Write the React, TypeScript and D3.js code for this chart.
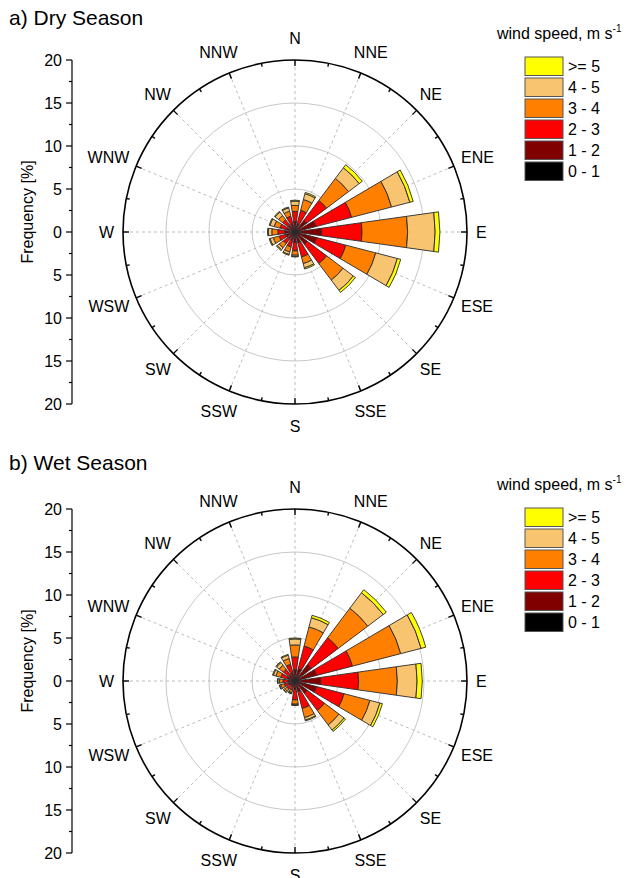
import React from "react";
import * as d3 from "d3";

const directions = ["N", "NNE", "NE", "ENE", "E", "ESE", "SE", "SSE", "S", "SSW", "SW", "WSW", "W", "WNW", "NW", "NNW"];
const speedClasses = ["0 - 1", "1 - 2", "2 - 3", "3 - 4", "4 - 5", ">= 5"];
const classColors = ["#000000", "#800000", "#ff0000", "#ff8000", "#f9c46f", "#ffff00"];
const freqTicks = [-20, -15, -10, -5, 0, 5, 10, 15, 20];
const gridRings = [5, 10, 15];

// Dry season: frequency [%] per speed class, directions N..NNW
const dry0to1 = [0.3, 0.3, 0.3, 0.4, 0.4, 0.4, 0.3, 0.3, 0.3, 0.3, 0.3, 0.3, 0.3, 0.3, 0.3, 0.3];
const dry1to2 = [0.9, 0.7, 1.4, 2.1, 2.7, 2.2, 1.5, 1.0, 0.9, 0.7, 0.7, 0.8, 0.9, 0.7, 0.7, 0.7];
const dry2to3 = [1.2, 1.6, 2.9, 4.3, 4.7, 3.5, 2.8, 1.7, 1.0, 0.8, 0.7, 0.8, 0.8, 0.8, 0.8, 0.9];
const dry3to4 = [0.7, 1.3, 3.2, 4.8, 5.3, 3.6, 2.4, 0.8, 0.5, 0.6, 0.6, 0.7, 0.7, 0.7, 0.6, 0.6];
const dry4to5 = [0.5, 0.7, 1.55, 2.2, 3.2, 2.6, 1.5, 0.5, 0.15, 0.3, 0.3, 0.4, 0.4, 0.5, 0.5, 0.4];
const dry5up = [0.1, 0.15, 0.45, 0.4, 0.55, 0.4, 0.3, 0.15, 0.05, 0.1, 0.1, 0.1, 0.1, 0.1, 0.1, 0.1];

// Wet season
const wet0to1 = [0.3, 0.3, 0.4, 0.4, 0.4, 0.4, 0.3, 0.3, 0.3, 0.3, 0.3, 0.3, 0.3, 0.3, 0.3, 0.3];
const wet1to2 = [1.0, 1.2, 2.0, 2.2, 2.6, 2.2, 1.5, 1.0, 0.7, 0.4, 0.4, 0.5, 0.5, 0.6, 0.6, 0.7];
const wet2to3 = [1.5, 2.7, 3.9, 4.3, 4.4, 3.3, 2.5, 2.0, 1.2, 0.4, 0.5, 0.5, 0.6, 0.8, 0.8, 1.0];
const wet3to4 = [1.4, 2.3, 4.3, 5.8, 4.5, 3.1, 2.1, 1.1, 0.5, 0.3, 0.3, 0.4, 0.4, 0.6, 0.6, 0.7];
const wet4to5 = [0.7, 1.1, 2.25, 2.45, 2.3, 1.2, 0.75, 0.3, 0.1, 0.1, 0.15, 0.15, 0.2, 0.3, 0.4, 0.4];
const wet5up = [0.1, 0.3, 0.45, 0.55, 0.6, 0.3, 0.2, 0.1, 0.05, 0.05, 0.05, 0.05, 0.05, 0.1, 0.1, 0.1];

const FONT = "'Liberation Sans', Arial, sans-serif";
const R = 172;
const CX = 295;
const LABEL_SIZE = 16;
const charW: Record<string, number> = { N: 0.722, E: 0.667, S: 0.667, W: 0.944 };

type PanelProps = { title: string; series: number[][]; cy: number; titleY: number; legendY: number };

function Panel({ title, series, cy, titleY, legendY }: PanelProps) {
  const r = d3.scaleLinear().domain([0, 20]).range([0, R]);
  const y = d3.scaleLinear().domain([-20, 20]).range([cy + R, cy - R]);
  const step = (2 * Math.PI) / directions.length;
  const half = (16 / 2) * (Math.PI / 180);
  const arc = d3.arc<any>();

  const bars: JSX.Element[] = [];
  directions.forEach((d, i) => {
    const a = i * step;
    let cum = 0;
    series.forEach((s, k) => {
      const v = s[i];
      const path = arc({
        innerRadius: r(cum),
        outerRadius: r(cum + v),
        startAngle: a - half,
        endAngle: a + half,
      }) as string;
      bars.push(
        <path key={`${d}-${k}`} d={path} fill={classColors[k]} stroke="#2a2a2a" strokeWidth={0.9} strokeLinejoin="round" />
      );
      cum += v;
    });
  });

  const minorTicks = d3.range(-20, 20.01, 2.5);
  const ringTicks = d3.range(0, 32).map((j) => j * (Math.PI / 16));

  return (
    <g>
      <text x={9} y={titleY} fontFamily={FONT} fontSize={21} fill="#000">{title}</text>
      {gridRings.map((g) => (
        <circle key={g} cx={CX} cy={cy} r={r(g)} fill="none" stroke="#c8c8c8" strokeWidth={1} />
      ))}
      {directions.map((d, i) => {
        const a = i * step;
        return (
          <line key={d} x1={CX} y1={cy} x2={CX + R * Math.sin(a)} y2={cy - R * Math.cos(a)}
            stroke="#bdbdbd" strokeWidth={1} strokeDasharray="3,3" />
        );
      })}
      <circle cx={CX} cy={cy} r={R} fill="none" stroke="#000" strokeWidth={1.6} />
      {ringTicks.map((a, j) => {
        const len = j % 2 === 0 ? 6 : 3.5;
        return (
          <line key={j} x1={CX + R * Math.sin(a)} y1={cy - R * Math.cos(a)}
            x2={CX + (R - len) * Math.sin(a)} y2={cy - (R - len) * Math.cos(a)}
            stroke="#000" strokeWidth={1.4} />
        );
      })}
      {directions.map((d, i) => {
        const a = i * step;
        const w = d.split("").reduce((s, ch) => s + (charW[ch] || 0.7), 0) * LABEL_SIZE;
        const h = 12;
        const sx = Math.sin(a);
        const cy0 = Math.cos(a);
        const lx = CX + (R + 9) * sx + (w / 2) * sx;
        const ly = cy - (R + 16) * cy0 - (h / 2) * cy0;
        return (
          <text key={d} x={lx} y={ly} textAnchor="middle"
            dominantBaseline="central" fontFamily={FONT} fontSize={LABEL_SIZE} fill="#000">{d}</text>
        );
      })}
      <g transform={`translate(${CX},${cy})`}>{bars}</g>
      <line x1={72} x2={72} y1={y(-20)} y2={y(20)} stroke="#000" strokeWidth={1.2} />
      {minorTicks.map((t) => {
        const major = Math.abs(t % 5) < 1e-6;
        return <line key={t} x1={72} x2={major ? 66 : 69} y1={y(t)} y2={y(t)} stroke="#000" strokeWidth={1.2} />;
      })}
      {freqTicks.map((t) => (
        <text key={t} x={62} y={y(t)} textAnchor="end" dominantBaseline="central" fontFamily={FONT} fontSize={16} fill="#000">
          {Math.abs(t)}
        </text>
      ))}
      <text transform={`translate(27,${cy - 20}) rotate(-90)`} textAnchor="middle" dominantBaseline="central"
        fontFamily={FONT} fontSize={16} fill="#000">Frequency [%]</text>
      <text x={497} y={legendY} fontFamily={FONT} fontSize={16} fill="#000">
        wind speed, m s<tspan dy={-7} fontSize={10}>-1</tspan>
      </text>
      {speedClasses.slice().reverse().map((c, j) => {
        const k = speedClasses.length - 1 - j;
        const top = legendY + 18 + j * 21;
        return (
          <g key={c}>
            <rect x={525} y={top} width={38} height={18.5} fill={classColors[k]} stroke="#555" strokeWidth={1} />
            <text x={568} y={top + 9.5} dominantBaseline="central" fontFamily={FONT} fontSize={16} fill="#000">{c}</text>
          </g>
        );
      })}
    </g>
  );
}

export default function App() {
  const drySeries = [dry0to1, dry1to2, dry2to3, dry3to4, dry4to5, dry5up];
  const wetSeries = [wet0to1, wet1to2, wet2to3, wet3to4, wet4to5, wet5up];
  return (
    <svg width={632} height={878} style={{ position: "absolute", left: 0, top: 0, background: "#fff" }}>
      <rect width={632} height={878} fill="#fff" />
      <Panel title="a) Dry Season" series={drySeries} cy={232} titleY={25} legendY={39} />
      <Panel title="b) Wet Season" series={wetSeries} cy={681} titleY={470} legendY={490} />
    </svg>
  );
}
